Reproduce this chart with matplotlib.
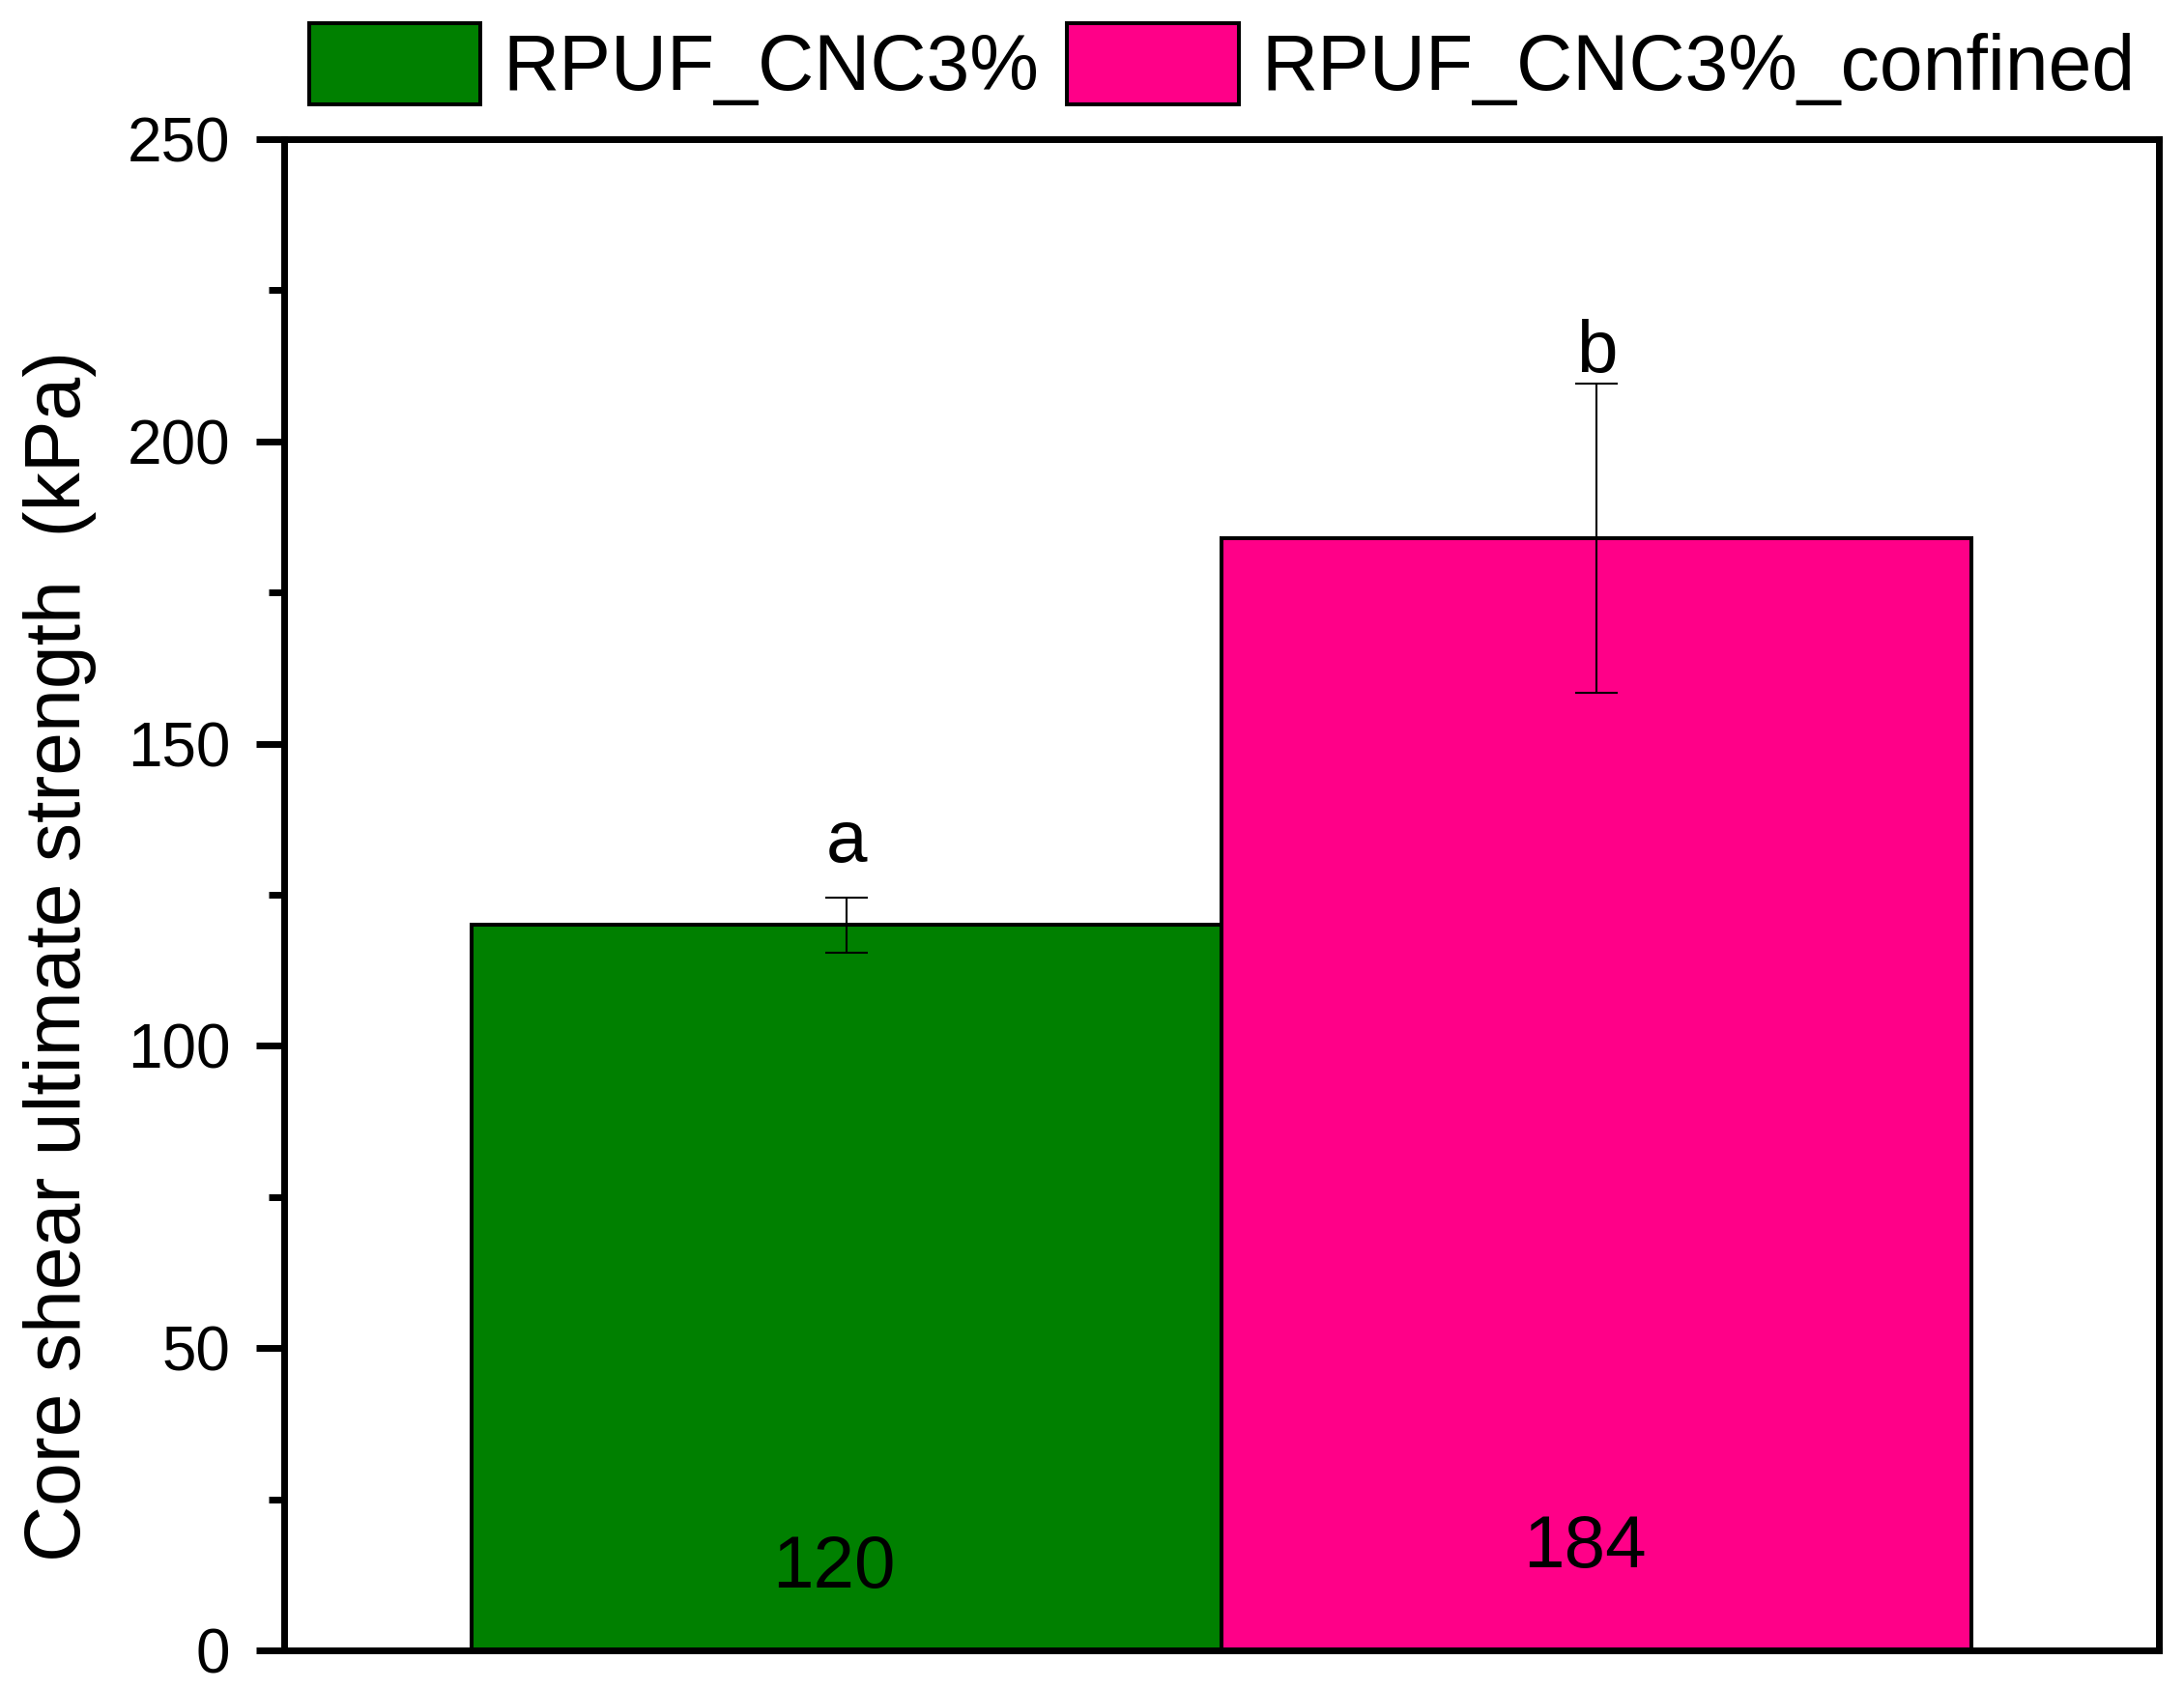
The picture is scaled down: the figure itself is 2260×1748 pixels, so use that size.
import matplotlib
matplotlib.use("Agg")
import matplotlib.pyplot as plt
from matplotlib.ticker import MultipleLocator

plt.rcParams['font.family'] = ['Liberation Sans', 'DejaVu Sans']

categories = ["RPUF_CNC3%", "RPUF_CNC3%_confined"]
values = [120, 184]
errors = [4.6, 25.6]
letters = ["a", "b"]
value_labels = ["120", "184"]
colors = ["#008000", "#FF0088"]

fig = plt.figure(figsize=(22.6, 17.48), dpi=100)
ax = fig.add_axes([0.1301, 0.0229, 0.9885 - 0.1301, 0.9176 - 0.0229])

xpos = [1, 2]
bars = []
for x, v, e, c, lab in zip(xpos, values, errors, colors, categories):
    b = ax.bar(x, v, width=1.0, color=c, edgecolor="black", linewidth=2.9, label=lab, zorder=2)
    bars.append(b)
    ax.errorbar(x, v, yerr=e, fmt="none", ecolor="black", elinewidth=1.5,
                capsize=16, capthick=1.5, zorder=3)

# significance letters
letter_y = [130.4, 211.5]
for x, l, y in zip(xpos, letters, letter_y):
    ax.text(x, y, l, ha="center", va="baseline", fontsize=55, zorder=4)

# value labels inside bars
vl_x = [0.983, 1.984]
vl_y = [10.4, 13.8]
for x, y, t in zip(vl_x, vl_y, value_labels):
    ax.text(x, y, t, ha="center", va="baseline", fontsize=55, zorder=4)

ax.set_xlim(0.25, 2.75)
ax.set_ylim(0, 250)
ax.yaxis.set_major_locator(MultipleLocator(50))
ax.yaxis.set_minor_locator(MultipleLocator(25))
ax.set_xticks([])
ax.tick_params(axis="y", which="major", direction="out", length=21, width=5,
               labelsize=46, pad=19)
ax.tick_params(axis="y", which="minor", direction="out", length=11.5, width=5)
for s in ax.spines.values():
    s.set_linewidth(5)

ax.set_ylabel("Core shear ultimate strength  (kPa)", fontsize=58, va="center")
ax.yaxis.set_label_coords(-0.1198, 0.4597)

leg = fig.legend(handles=[b[0] for b in bars], labels=categories, loc="upper left",
                 bbox_to_anchor=(320 / 2260, 1 - 24 / 1748), ncol=2, frameon=False,
                 fontsize=58, handlelength=2.2, handleheight=1.23, handletextpad=0.29,
                 columnspacing=0.36, borderpad=0, borderaxespad=0)

fig.savefig("out.png", dpi=100)
